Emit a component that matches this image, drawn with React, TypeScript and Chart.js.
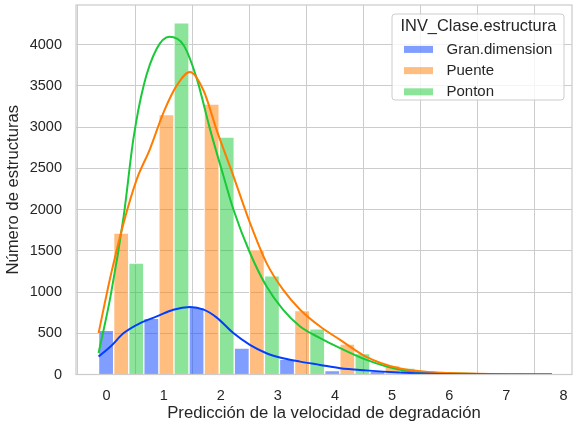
import { Chart, registerables } from 'chart.js';
import { useEffect, useRef } from 'react';
Chart.register(...registerables);

// histogram (dodged): 10 bins starting at binStart, width binWidth
const binStart = -0.14;
const binWidth = 0.792;
const classes = ['Gran.dimension', 'Puente', 'Ponton'];
const granCounts = [535, 680, 815, 320, 185, 48, 42, 10, 5, 2];
const puenteCounts = [1715, 3150, 3280, 1515, 775, 370, 108, 40, 14, 5];
const pontonCounts = [1350, 4265, 2880, 1195, 555, 255, 78, 25, 9, 3];

// kde curves
const granKdeX = [-0.14, 0.07, 0.3, 0.59, 0.88, 1.17, 1.46, 1.7, 1.93, 2.22, 2.51, 2.8, 3.09, 3.39, 3.74, 4.09, 4.54, 5.12, 5.7, 6.5, 7.2, 7.8];
const granKde = [217, 339, 502, 624, 704, 786, 818, 786, 690, 502, 359, 258, 197, 156, 116, 76, 50, 25, 10, 3, 1, 0];
const puenteKdeX = [-0.14, 0.07, 0.3, 0.53, 0.76, 1.0, 1.23, 1.46, 1.7, 1.93, 2.22, 2.51, 2.8, 3.09, 3.39, 3.74, 4.09, 4.54, 5.12, 5.7, 6.5, 7.2, 7.8];
const puenteKde = [502, 1191, 1841, 2369, 2734, 3181, 3505, 3668, 3440, 2960, 2409, 1841, 1354, 1029, 786, 582, 420, 217, 75, 27, 9, 3, 0];
const pontonKdeX = [-0.14, 0.07, 0.3, 0.47, 0.65, 0.88, 1.1, 1.35, 1.58, 1.81, 2.05, 2.22, 2.51, 2.8, 3.09, 3.39, 3.74, 4.09, 4.54, 5.12, 5.7, 6.5, 7.2, 7.8];
const pontonKde = [260, 950, 1920, 2856, 3505, 3952, 4095, 3993, 3587, 2978, 2400, 2004, 1476, 1069, 786, 582, 441, 319, 180, 60, 20, 6, 2, 0];

const yTicks = [0, 500, 1000, 1500, 2000, 2500, 3000, 3500, 4000];
const xTicks = [0, 1, 2, 3, 4, 5, 6, 7, 8];

const lineColors = ['#023eff', '#ff7c00', '#1ac938'];
const barColors = ['rgba(2,62,255,0.5)', 'rgba(255,124,0,0.5)', 'rgba(26,201,56,0.5)'];

const FONT = "'Liberation Sans', Arial, sans-serif";
const TEXT = '#262626';
const GRID = '#cccccc';

const frame = {
  id: 'frame',
  afterDatasetsDraw(chart: any) {
    const { ctx, chartArea: a } = chart;
    ctx.save();
    ctx.strokeStyle = GRID;
    ctx.lineWidth = 1.25;
    ctx.strokeRect(a.left, a.top, a.right - a.left, a.bottom - a.top);
    ctx.restore();
  },
  afterDraw(chart: any) {
    const { ctx, chartArea: a } = chart;
    const x = a.right - 180, y = a.top + 9, w = 172, h = 86;
    ctx.save();
    ctx.beginPath();
    ctx.roundRect(x, y, w, h, 3);
    ctx.fillStyle = 'rgba(255,255,255,0.8)';
    ctx.fill();
    ctx.strokeStyle = GRID;
    ctx.lineWidth = 1;
    ctx.stroke();
    ctx.fillStyle = TEXT;
    ctx.textBaseline = 'middle';
    ctx.font = `16.4px ${FONT}`;
    ctx.fillText('INV_Clase.estructura', x + 8.5, y + 12.3);
    ctx.font = `15px ${FONT}`;
    classes.forEach((c, i) => {
      const cy = y + 35.4 + i * 21.2;
      ctx.fillStyle = barColors[i];
      ctx.fillRect(x + 12, cy - 3.5, 29, 7);
      ctx.fillStyle = TEXT;
      ctx.fillText(c, x + 54.5, cy);
    });
    ctx.restore();
  },
};

export default function App() {
  const ref = useRef<HTMLCanvasElement | null>(null);
  useEffect(() => {
    if (!ref.current) return;
    Chart.defaults.font.family = FONT;
    const counts = [granCounts, puenteCounts, pontonCounts];
    const kdes = [[granKdeX, granKde], [puenteKdeX, puenteKde], [pontonKdeX, pontonKde]];
    const bars = counts.map((vals, i) => ({
      type: 'bar' as const,
      label: classes[i],
      data: vals.map((v, k) => ({ x: binStart + k * binWidth + ((i + 0.5) * binWidth) / 3, y: v })),
      backgroundColor: barColors[i],
      borderColor: '#ffffff',
      borderWidth: 1,
      grouped: false,
      barPercentage: 1,
      categoryPercentage: 1,
      order: 1,
    }));
    const lines = kdes.map(([xs, ys], i) => ({
      type: 'line' as const,
      label: classes[i] + ' kde',
      data: ys.map((v, k) => ({ x: xs[k], y: v })),
      borderColor: lineColors[i],
      borderWidth: 2,
      pointRadius: 0,
      fill: false,
      cubicInterpolationMode: 'monotone' as const,
      order: 0,
    }));
    const c = new Chart(ref.current.getContext('2d')!, {
      type: 'bar',
      data: { datasets: [...bars, ...lines] as any },
      options: {
        animation: false,
        responsive: true,
        maintainAspectRatio: false,
        layout: { padding: { top: 5, right: 8, left: 0, bottom: 0 } },
        plugins: { legend: { display: false }, tooltip: { enabled: false } },
        scales: {
          x: {
            type: 'linear',
            min: -0.535,
            max: 8.15,
            offset: false,
            afterBuildTicks: (s: any) => { s.ticks = xTicks.map((v) => ({ value: v })); },
            afterFit: (s: any) => { s.height = 56.5; s.paddingLeft = 0; s.paddingRight = 0; },
            ticks: { padding: 13, color: TEXT, font: { size: 14.5 }, callback: (v: any) => String(v) },
            grid: { color: GRID, lineWidth: 1, drawTicks: false },
            border: { display: false },
            title: { display: true, text: 'Predicción de la velocidad de degradación', color: TEXT, font: { size: 16.7 }, padding: { top: 0, bottom: 8 } },
          },
          y: {
            type: 'linear',
            min: 0,
            max: 4480,
            afterBuildTicks: (s: any) => { s.ticks = yTicks.map((v) => ({ value: v })); },
            afterFit: (s: any) => { s.width = 76; s.paddingTop = 0; s.paddingBottom = 0; },
            ticks: { padding: 14, color: TEXT, font: { size: 14.5 }, callback: (v: any) => String(v) },
            grid: { color: GRID, lineWidth: 1, drawTicks: false },
            border: { display: false },
            title: { display: true, text: 'Número de estructuras', color: TEXT, font: { size: 16.7 }, padding: { top: 3, bottom: 0 } },
          },
        },
      },
      plugins: [frame],
    });
    return () => c.destroy();
  }, []);
  return (
    <div style={{ position: 'fixed', left: 0, top: 0, width: 580, height: 431, background: '#fff' }}>
      <canvas ref={ref} />
    </div>
  );
}
